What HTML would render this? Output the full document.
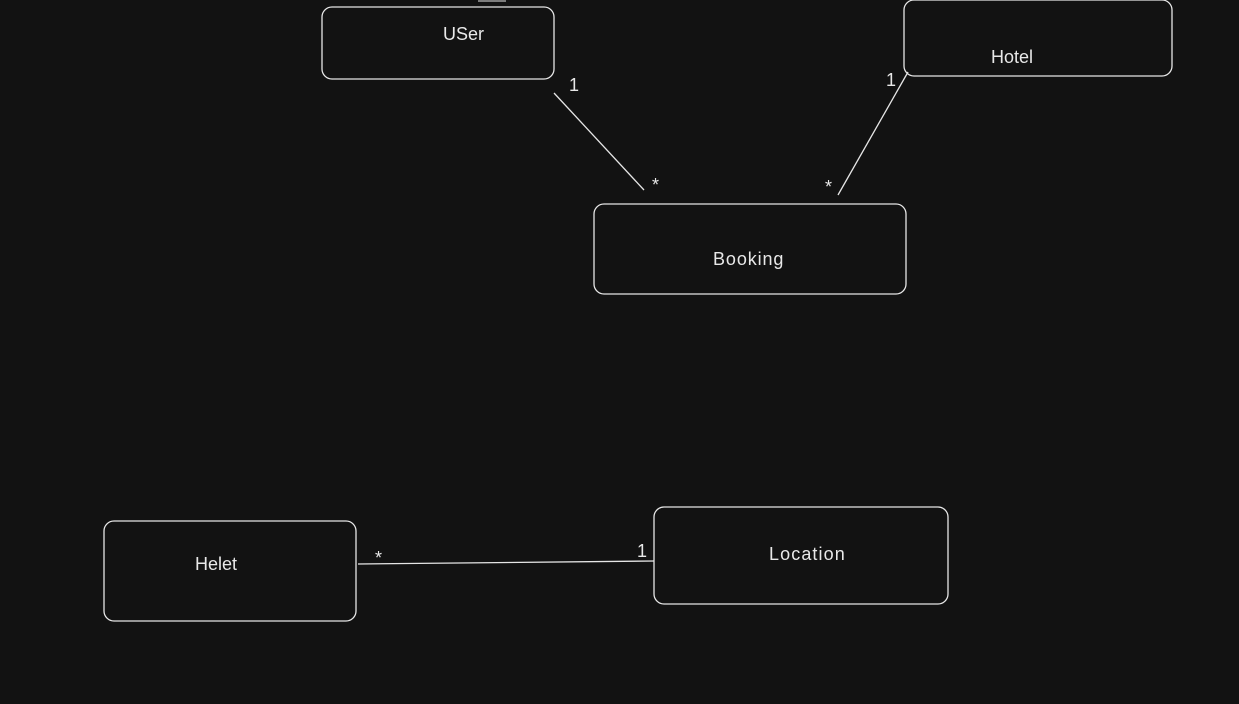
<!DOCTYPE html>
<html><head><style>
html,body{margin:0;padding:0;background:#121212;}
svg{display:block}
text{font-family:"Liberation Sans",sans-serif;fill:#e8e8e8;font-size:18px;}
</style></head><body>
<svg width="1239" height="704" viewBox="0 0 1239 704">
<rect width="1239" height="704" fill="#121212"/>
<g fill="none" stroke="#e6e6e6" stroke-width="1.3">
<rect x="322" y="7" width="232" height="72" rx="10"/>
<rect x="904" y="0" width="268" height="76" rx="10"/>
<rect x="594" y="204" width="312" height="90" rx="10"/>
<rect x="104" y="521" width="252" height="100" rx="10"/>
<rect x="654" y="507" width="294" height="97" rx="10"/>
<line x1="554" y1="93" x2="644" y2="190"/>
<line x1="908" y1="72" x2="838" y2="195"/>
<line x1="358" y1="564" x2="654" y2="561"/>
<line x1="478" y1="1" x2="506" y2="1" stroke-width="1"/>
</g>
<text x="443" y="40">USer</text>
<text x="991" y="63">Hotel</text>
<text x="713" y="265" letter-spacing="0.9">Booking</text>
<text x="769" y="560" letter-spacing="1.1">Location</text>
<text x="195" y="570">Helet</text>
<text x="569" y="91" font-size="16">1</text>
<text x="886" y="86" font-size="16">1</text>
<text x="652" y="191" font-size="16">*</text>
<text x="825" y="193" font-size="16">*</text>
<text x="375" y="564" font-size="16">*</text>
<text x="637" y="557" font-size="16">1</text>
</svg>
</body></html>
